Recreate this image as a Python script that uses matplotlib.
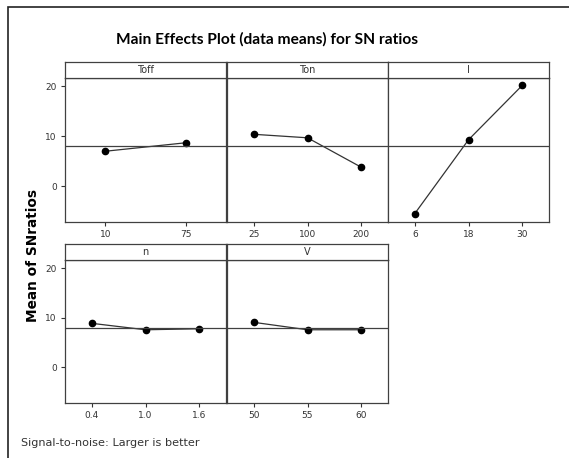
import numpy as np
import matplotlib
matplotlib.use("Agg")
import matplotlib.pyplot as plt
from matplotlib.patches import Rectangle

# Data: factor names, levels and SN-ratio means
factors = ["Toff", "Ton", "I", "n", "V"]
levels = [
    ["10", "75"],
    ["25", "100", "200"],
    ["6", "18", "30"],
    ["0.4", "1.0", "1.6"],
    ["50", "55", "60"],
]
toff_means = [7.0, 8.7]
ton_means = [10.4, 9.7, 3.8]
i_means = [-5.5, 9.3, 20.2]
n_means = [8.9, 7.6, 7.8]
v_means = [9.1, 7.6, 7.6]
means = [toff_means, ton_means, i_means, n_means, v_means]
grand_mean = 8.05

W, H = 569, 458
fig = plt.figure(figsize=(W / 100, H / 100), dpi=100)
fig.patch.set_facecolor("white")

edge = "#404040"

# outer frame (cut by image edge on the right and bottom)
fig.patches.append(Rectangle((8 / W, -0.1), 1.2, 1 - 7 / H + 0.1,
                             transform=fig.transFigure, fill=False,
                             edgecolor="#222222", linewidth=1.2))

fig.text(267 / W, 1 - 39 / H, "Main Effects Plot (data means) for SN ratios",
         ha="center", va="center", fontsize=11.2, fontweight="bold",
         family="Lato")
fig.text(33 / W, 1 - 255 / H, "Mean of SNratios", rotation=90,
         ha="center", va="center", fontsize=9.8, fontweight="bold")
fig.text(21 / W, 1 - 443 / H, "Signal-to-noise: Larger is better",
         ha="left", va="center", fontsize=8.1, color="#333333")

lefts = [65, 227, 388]
rows = [(78, 222, 62), (260, 403, 244)]

for k, name in enumerate(factors):
    r, c = divmod(k, 3)
    top, bot, strip_top = rows[r]
    x0 = lefts[c]
    w = 161
    ax = fig.add_axes([x0 / W, 1 - bot / H, w / W, (bot - top) / H])
    sax = fig.add_axes([x0 / W, 1 - top / H, w / W, (top - strip_top) / H])

    lv = levels[k]
    pos = np.arange(1, len(lv) + 1)
    ax.plot(pos, means[k], color="#333333", linewidth=0.9,
            marker="o", markersize=4.5, markerfacecolor="black",
            markeredgecolor="black")
    ax.axhline(grand_mean, color=edge, linewidth=0.9)
    ax.set_xlim(0.5, len(lv) + 0.5)
    ax.set_ylim(-7.2, 21.7)
    ax.set_xticks(pos)
    ax.set_xticklabels(lv)
    ax.set_yticks([0, 10, 20])
    ax.tick_params(axis="both", labelsize=6.5, colors="#333333",
                   length=3, width=0.8, direction="out", pad=3)
    if c != 0:
        ax.tick_params(axis="y", left=False, labelleft=False)
    for sp in ax.spines.values():
        sp.set_color(edge)
        sp.set_linewidth(0.9)

    sax.set_xticks([])
    sax.set_yticks([])
    for sp in sax.spines.values():
        sp.set_color(edge)
        sp.set_linewidth(0.9)
    sax.text(0.5, 0.5, name, ha="center", va="center", fontsize=7,
             color="#333333", transform=sax.transAxes)

fig.savefig("out.png", dpi=100, facecolor="white")
